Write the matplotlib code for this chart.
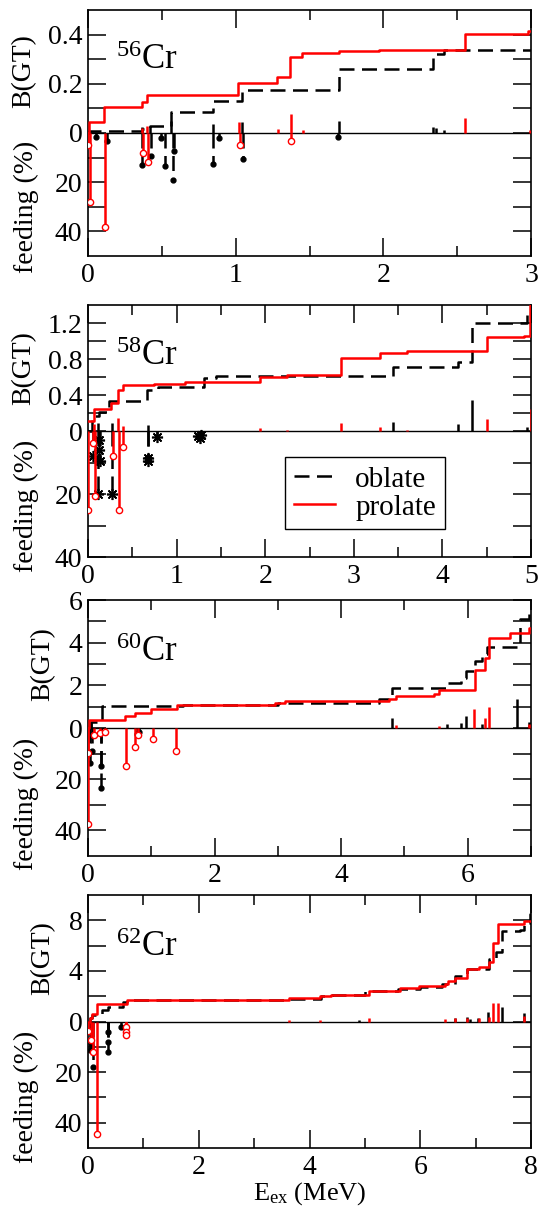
import numpy as np
import matplotlib.pyplot as plt

plt.rcParams['font.family'] = ['Liberation Serif', 'DejaVu Serif']
plt.rcParams['mathtext.fontset'] = 'custom'
plt.rcParams['mathtext.rm'] = 'Liberation Serif'
plt.rcParams['mathtext.it'] = 'Liberation Serif:italic'

# ---------------- 56Cr ----------------
cr56_pro_E = [0.0, 0.01, 0.105, 0.367, 0.40, 1.016, 1.28, 1.37, 1.45, 1.70, 1.97, 2.556, 2.98, 3.0]
cr56_pro_B = [0.0, 0.046, 0.105, 0.125, 0.156, 0.203, 0.227, 0.309, 0.325, 0.333, 0.339, 0.403, 0.414, 0.414]
cr56_obl_E = [0.0, 0.01, 0.367, 0.42, 0.565, 0.846, 1.045, 1.70, 2.336, 2.41, 3.0]
cr56_obl_B = [0.0, 0.007, 0.018, 0.03, 0.084, 0.132, 0.176, 0.261, 0.322, 0.336, 0.336]
cr56_obl_stick_E = [0.367, 0.42, 0.565, 0.846, 1.045, 1.70, 2.336, 2.36, 2.41]
cr56_obl_stick_B = [0.023, 0.03, 0.05, 0.035, 0.044, 0.048, 0.026, 0.02, 0.012]
cr56_pro_stick_E = [0.367, 0.40, 1.025, 1.285, 1.372, 1.458, 2.556, 2.99]
cr56_pro_stick_B = [0.02, 0.03, 0.046, 0.016, 0.078, 0.012, 0.061, 0.012]
cr56_pro_feed_E = [0.0, 0.012, 0.112, 0.374, 0.407, 1.026, 1.376]
cr56_pro_feed = [4.9, 28.2, 38.2, 8.2, 11.6, 4.8, 3.1]
cr56_obl_feed_E = [0.056, 0.128, 0.367, 0.43, 0.495, 0.521, 0.577, 0.584, 0.846, 0.888, 1.049, 1.694]
cr56_obl_feed = [1.8, 3.1, 12.9, 9.4, 2.0, 13.3, 19.2, 7.2, 12.7, 2.0, 10.6, 1.5]

# ---------------- 58Cr ----------------
cr58_pro_E = [0.0, 0.066, 0.26, 0.34, 0.39, 0.75, 1.1, 1.94, 2.25, 2.85, 3.30, 3.60, 4.50, 4.92, 4.99, 5.0]
cr58_pro_B = [0.115, 0.24, 0.31, 0.46, 0.51, 0.525, 0.54, 0.60, 0.62, 0.81, 0.87, 0.89, 1.04, 1.06, 1.40, 1.40]
cr58_obl_E = [0.0, 0.045, 0.125, 0.24, 0.67, 0.79, 1.31, 1.45, 3.44, 4.18, 4.33, 4.96, 5.0]
cr58_obl_B = [0.0, 0.17, 0.21, 0.33, 0.46, 0.49, 0.585, 0.615, 0.71, 0.77, 1.20, 1.35, 1.35]
cr58_obl_stick_E = [0.117, 0.267, 0.68, 3.44, 4.18, 4.33, 4.96]
cr58_obl_stick_B = [0.085, 0.09, 0.07, 0.1, 0.08, 0.35, 0.05]
cr58_pro_stick_E = [0.066, 0.34, 0.40, 1.94, 2.25, 2.85, 3.30, 3.60, 4.50, 5.0]
cr58_pro_stick_B = [0.08, 0.15, 0.06, 0.03, 0.015, 0.09, 0.04, 0.01, 0.13, 0.25]
cr58_pro_feed_E = [0.0, 0.06, 0.079, 0.286, 0.354, 0.399]
cr58_pro_feed = [25.0, 3.8, 20.6, 7.9, 25.0, 5.2]
cr58_obl_feed_E = [0.06, 0.12, 0.12, 0.117, 0.14, 0.267, 0.68, 0.68, 0.775, 1.24, 1.26, 1.28]
cr58_obl_feed = [7.9, 2.8, 5.9, 20.0, 9.5, 20.0, 8.5, 9.5, 1.8, 1.6, 2.3, 1.2]

# ---------------- 60Cr ----------------
cr60_pro_E = [0.0, 0.01, 0.584, 0.74, 1.0, 1.40, 2.96, 3.12, 4.76, 4.87, 5.47, 5.55, 6.11, 6.28, 6.34, 6.67, 6.97, 7.0]
cr60_pro_B = [0.0, 0.38, 0.55, 0.71, 0.88, 1.09, 1.19, 1.27, 1.35, 1.52, 1.6, 1.76, 2.74, 3.26, 4.24, 4.45, 4.70, 4.70]
cr60_obl_E = [0.0, 0.05, 0.216, 1.5, 3.0, 4.6, 4.81, 5.68, 5.9, 5.98, 6.12, 6.23, 6.31, 6.78, 6.83, 6.97, 7.0]
cr60_obl_B = [0.0, 0.3, 1.04, 1.1, 1.19, 1.35, 1.89, 2.09, 2.33, 2.66, 3.15, 3.47, 3.8, 3.96, 5.1, 5.6, 5.6]
cr60_obl_stick_E = [0.05, 4.81, 5.68, 5.9, 5.98, 6.23, 6.78, 6.97]
cr60_obl_stick_B = [0.3, 0.46, 0.2, 0.25, 0.54, 0.2, 1.35, 0.3]
cr60_pro_stick_E = [4.87, 5.55, 6.10, 6.27, 6.34, 6.97]
cr60_pro_stick_B = [0.12, 0.1, 0.91, 0.46, 0.98, 0.2]
cr60_pro_feed_E = [0.0, 0.0, 0.095, 0.19, 0.27, 0.60, 0.74, 0.79, 1.02, 1.39]
cr60_pro_feed = [37.6, 9.9, 2.9, 2.0, 1.6, 14.7, 7.3, 2.7, 4.3, 8.9]
cr60_obl_feed_E = [0.03, 0.06, 0.20, 0.20, 0.77, 0.80]
cr60_obl_feed = [13.5, 9.0, 23.6, 15.0, 2.3, 1.5]

# ---------------- 62Cr ----------------
cr62_pro_E = [0.0, 0.03, 0.07, 0.156, 0.70, 3.63, 4.19, 4.38, 5.07, 5.63, 5.97, 6.44, 6.5, 6.62, 6.84, 7.06, 7.25, 7.32, 7.40, 7.87, 8.0]
cr62_pro_B = [0.0, 0.3, 0.62, 1.36, 1.7, 1.82, 1.98, 2.1, 2.44, 2.66, 2.79, 2.93, 3.2, 3.47, 4.15, 4.28, 4.69, 6.18, 7.67, 7.94, 7.94]
cr62_obl_E = [0.0, 0.03, 0.08, 0.26, 0.37, 0.64, 0.70, 3.6, 4.2, 4.4, 5.0, 5.6, 6.0, 6.4, 6.62, 6.84, 7.25, 7.37, 7.47, 7.81, 7.87, 7.98, 8.0]
cr62_obl_B = [0.0, 0.3, 0.55, 0.9, 1.17, 1.57, 1.7, 1.8, 2.0, 2.1, 2.4, 2.6, 2.75, 2.95, 3.6, 4.15, 4.96, 5.5, 7.13, 7.26, 7.8, 8.48, 8.48]
cr62_obl_stick_E = [4.9, 6.62, 6.84, 6.9, 7.05, 7.22, 7.47, 7.87]
cr62_obl_stick_B = [0.15, 0.3, 0.35, 0.2, 0.25, 0.76, 1.17, 0.68]
cr62_pro_stick_E = [3.63, 4.19, 5.07, 6.44, 6.62, 6.84, 7.06, 7.25, 7.32, 7.40, 7.87]
cr62_pro_stick_B = [0.1, 0.12, 0.25, 0.2, 0.25, 0.3, 0.25, 0.35, 1.44, 1.44, 0.4]
cr62_pro_feed_E = [0.0, 0.06, 0.096, 0.17, 0.69, 0.69, 0.69]
cr62_pro_feed = [3.6, 7.5, 12.0, 44.6, 2.2, 4.2, 5.5]
cr62_obl_feed_E = [0.036, 0.05, 0.085, 0.37, 0.37, 0.37, 0.60]
cr62_obl_feed = [11.2, 8.8, 17.8, 12.0, 8.0, 4.2, 2.2]

fig = plt.figure(figsize=(5.4, 12.07), dpi=100)
W, H = 540.0, 1207.0
FS = 20

def panel(top, bot, mass, xmax, xmaj, xmin, ylim, fscale,
          bmaj, blab, bmin, fmaj, fmin,
          proE, proB, oblE, oblB, osE, osB, psE, psB,
          pfE, pf, ofE, of, omark, blab_x):
    ax = fig.add_axes([88 / W, 1 - bot / H, 443 / W, (bot - top) / H])
    dash = (0, (6, 3))
    # oblate (black dashed)
    ax.plot(oblE, oblB, color='k', lw=1.8, ls=dash, drawstyle='steps-post', zorder=3)
    ax.vlines(osE, 0, osB, colors='k', lw=1.8, zorder=3)
    ax.vlines(ofE, 0, -np.array(of) * fscale, colors='k', lw=1.8, linestyles=dash, zorder=3)
    if omark == 'dot':
        ax.plot(ofE, -np.array(of) * fscale, 'o', color='k', ms=3.5, zorder=4)
    else:
        ax.plot(ofE, -np.array(of) * fscale, ls='none', marker=(8, 2, 0), color='k',
                ms=8, mew=1.2, zorder=4)
    # prolate (red solid)
    ax.plot(proE, proB, color='red', lw=1.8, drawstyle='steps-post', zorder=5)
    ax.vlines(psE, 0, psB, colors='red', lw=1.8, zorder=5)
    ax.vlines(pfE, 0, -np.array(pf) * fscale, colors='red', lw=1.8, zorder=5)
    ax.plot(pfE, -np.array(pf) * fscale, 'o', mfc='white', mec='red', ms=4.5, mew=1.0, zorder=6)
    ax.axhline(0, color='k', lw=1.0, zorder=2)

    ax.set_xlim(0, xmax)
    ax.set_ylim(-ylim, ylim)
    ax.set_xticks(xmaj)
    ax.set_xticks(xmin, minor=True)
    yt = list(bmaj) + [0] + [-p * fscale for p in fmaj]
    yl = list(blab) + ['0'] + [str(p) for p in fmaj]
    ax.set_yticks(yt)
    ax.set_yticklabels(yl)
    ax.set_yticks(list(bmin) + [-p * fscale for p in fmin], minor=True)
    ax.tick_params(axis='both', which='both', direction='in', top=True, right=True,
                   labelsize=FS, width=1.1)
    ax.tick_params(axis='y', which='both', length=13, pad=4)
    ax.tick_params(axis='x', which='major', length=13, pad=5)
    ax.tick_params(axis='x', which='minor', length=7)
    for s in ax.spines.values():
        s.set_linewidth(1.2)
    ax.text(0.063, 0.76, r'$^{%s}$Cr' % mass, transform=ax.transAxes, fontsize=25,
            ha='left', va='baseline')
    # y labels
    zero_y = top + (bot - top) / 2.0
    fig.text(blab_x / W, 1 - (top + zero_y) / 2.0 / H, 'B(GT)', rotation=90,
             fontsize=FS, ha='center', va='center')
    fig.text(26 / W, 1 - (zero_y + 12 + bot + 12) / 2.0 / H, 'feeding (%)', rotation=90,
             fontsize=FS, ha='center', va='center')
    return ax

panel(10, 256, '56', 3, [0, 1, 2, 3], [0.5, 1.5, 2.5], 0.5, 0.01,
      [0.4, 0.2], ['0.4', '0.2'], [0.3, 0.1], [20, 40], [10, 30],
      cr56_pro_E, cr56_pro_B, cr56_obl_E, cr56_obl_B,
      cr56_obl_stick_E, cr56_obl_stick_B, cr56_pro_stick_E, cr56_pro_stick_B,
      cr56_pro_feed_E, cr56_pro_feed, cr56_obl_feed_E, cr56_obl_feed, 'dot', 24)

ax2 = panel(305, 557, '58', 5, [0, 1, 2, 3, 4, 5], [0.5, 1.5, 2.5, 3.5, 4.5], 1.4, 0.035,
      [1.2, 0.8, 0.4], ['1.2', '0.8', '0.4'], [1.0, 0.6, 0.2], [20, 40], [10, 30],
      cr58_pro_E, cr58_pro_B, cr58_obl_E, cr58_obl_B,
      cr58_obl_stick_E, cr58_obl_stick_B, cr58_pro_stick_E, cr58_pro_stick_B,
      cr58_pro_feed_E, cr58_pro_feed, cr58_obl_feed_E, cr58_obl_feed, 'star', 24)

panel(600, 856, '60', 7, [0, 2, 4, 6], [1, 3, 5, 7], 6, 0.12,
      [6, 4, 2], ['6', '4', '2'], [5, 3, 1], [20, 40], [10, 30],
      cr60_pro_E, cr60_pro_B, cr60_obl_E, cr60_obl_B,
      cr60_obl_stick_E, cr60_obl_stick_B, cr60_pro_stick_E, cr60_pro_stick_B,
      cr60_pro_feed_E, cr60_pro_feed, cr60_obl_feed_E, cr60_obl_feed, 'dot', 43)

ax4 = panel(895, 1148, '62', 8, [0, 2, 4, 6, 8], [1, 3, 5, 7], 10, 0.2,
      [8, 4], ['8', '4'], [6, 2], [20, 40], [10, 30],
      cr62_pro_E, cr62_pro_B, cr62_obl_E, cr62_obl_B,
      cr62_obl_stick_E, cr62_obl_stick_B, cr62_pro_stick_E, cr62_pro_stick_B,
      cr62_pro_feed_E, cr62_pro_feed, cr62_obl_feed_E, cr62_obl_feed, 'dot', 43)
ax4.set_xlabel(r'E$_{\rm ex}$ (MeV)', fontsize=19, labelpad=0)

# legend in the 58Cr panel
h1, = ax2.plot([], [], color='k', lw=1.8, ls=(0, (6, 3)), label='oblate')
h2, = ax2.plot([], [], color='red', lw=1.8, label='prolate')
leg = ax2.legend(handles=[h1, h2], loc='upper left', bbox_to_anchor=(0.445, 0.395),
                 fontsize=21, frameon=True, fancybox=False, framealpha=1,
                 edgecolor='k', handlelength=1.4, handletextpad=0.7,
                 borderpad=0.3, labelspacing=0.05, borderaxespad=0)
leg.get_frame().set_linewidth(1.0)

fig.savefig('out.png', dpi=100)
